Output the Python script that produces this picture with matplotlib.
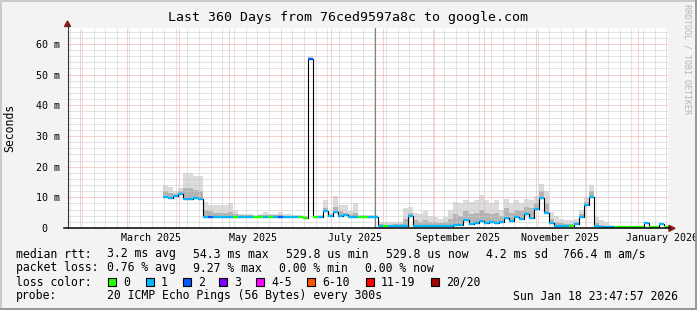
import numpy as np
import matplotlib
matplotlib.use('Agg')
import matplotlib.pyplot as plt
import matplotlib.dates as mdates
from matplotlib.ticker import MultipleLocator, FuncFormatter, NullFormatter
from matplotlib.patches import Rectangle, Polygon
from matplotlib.lines import Line2D

plt.rcParams['font.family'] = ['DejaVu Sans Mono']

W, H = 697, 310

# zeitfenster der grafik (360 tage)
t_end = np.datetime64('2026-01-18T23:47:57')
t_start = t_end - np.timedelta64(360, 'D')
first_bin_day = 57.5   # erste messung, tage nach t_start
bin_days = 3

# median rtt pro 3-tage-block (ms)
median_ms = [10.2, 9.9, 10.4, 11.2, 9.6, 9.5, 9.9, 9.4, 3.6, 3.6,
             3.6, 3.6, 3.6, 3.6, 3.5, 3.6, 3.6, 3.6, 3.5, 3.6,
             3.6, 3.5, 3.6, 3.6, 3.6, 3.6, 3.6, 3.5, 3.4, 55.0,
             3.5, 3.7, 5.6, 3.8, 5.2, 3.8, 4.2, 3.7, 3.7, 3.6,
             3.5, 3.6, 3.7, 0.8, 0.7, 0.8, 0.8, 0.8, 0.8, 3.9,
             0.8, 0.8, 0.8, 0.8, 0.8, 0.8, 0.8, 0.8, 0.9, 0.9,
             2.6, 1.3, 1.6, 2.2, 1.5, 1.8, 1.6, 2.0, 3.2, 2.4,
             3.7, 2.8, 4.6, 3.4, 6.2, 9.7, 4.8, 1.6, 0.8, 0.8,
             0.8, 0.7, 1.2, 3.6, 7.6, 10.2, 0.5, 0.4, 0.4, 0.4,
             0.3, 0.3, 0.3, 0.3, 0.3, 0.3, 1.5, 0.3, 0.3, 1.3,
             0.3]
# verlorene pings (index in loss_colors)
loss_code = [1, 1, 1, 1, 1, 1, 1, 1, 1, 2,
             1, 1, 1, 1, 0, 1, 1, 1, 0, 0,
             1, 0, 1, 2, 1, 1, 1, 0, 0, 2,
             0, 1, 1, 1, 1, 1, 1, 1, 1, 0,
             0, 1, 1, 1, 0, 1, 1, 1, 1, 1,
             1, 1, 1, 1, 1, 1, 1, 1, 1, 1,
             1, 1, 1, 1, 1, 1, 1, 1, 1, 1,
             1, 1, 1, 1, 1, 1, 1, 1, 1, 1,
             1, 0, 1, 1, 1, 1, 1, 1, 1, 1,
             0, 0, 0, 0, 0, 0, 1, 0, 0, 1,
             0]
# rauch: obere grenze und dichter bereich (ms)
smoke_hi_ms = [14.0, 13.5, 12.0, 13.0, 18.0, 18.0, 17.0, 17.0, 8.6, 7.5,
               7.5, 7.5, 7.5, 8.0, 6.0, 4.6, 4.5, 4.6, 4.4, 4.6,
               5.3, 4.6, 4.5, 5.3, 4.5, 4.5, 4.3, 4.3, 4.0, 56.0,
               4.0, 4.3, 9.0, 5.0, 10.4, 7.5, 7.5, 5.5, 8.0, 4.4,
               4.4, 4.2, 4.2, 2.0, 1.8, 1.8, 2.0, 2.0, 6.5, 7.0,
               5.0, 4.5, 5.5, 4.0, 3.5, 3.0, 3.7, 6.0, 8.6, 8.0,
               9.0, 8.5, 9.1, 10.8, 9.0, 8.0, 9.0, 6.0, 9.5, 8.0,
               9.0, 8.0, 9.5, 9.0, 10.5, 14.5, 12.0, 5.3, 4.0, 3.0,
               2.5, 2.5, 3.0, 6.0, 10.0, 14.0, 3.7, 2.5, 2.0, 1.0,
               0.8, 0.8, 0.8, 0.8, 0.8, 0.8, 1.8, 0.8, 0.8, 1.5,
               0.8]
smoke_mid_ms = [12.0, 11.5, 11.0, 12.0, 13.0, 13.0, 12.5, 12.0, 6.0, 5.5,
                5.0, 5.0, 5.0, 5.2, 4.5, 4.1, 4.1, 4.1, 4.0, 4.1,
                4.3, 4.1, 4.1, 4.2, 4.0, 4.0, 4.0, 3.9, 3.8, 55.5,
                3.8, 4.0, 6.5, 4.3, 7.0, 5.5, 5.0, 4.5, 5.0, 4.0,
                4.0, 3.9, 3.9, 1.2, 1.1, 1.1, 1.2, 1.2, 3.0, 5.0,
                2.5, 2.0, 2.5, 2.0, 1.8, 1.5, 1.8, 3.0, 4.5, 4.0,
                5.5, 4.5, 5.0, 6.0, 5.0, 4.5, 5.0, 4.0, 6.5, 5.0,
                6.0, 5.5, 7.0, 6.5, 8.0, 12.0, 8.0, 3.0, 2.0, 1.5,
                1.3, 1.3, 1.8, 4.5, 8.5, 12.0, 1.5, 1.0, 0.8, 0.6,
                0.6, 0.6, 0.6, 0.6, 0.6, 0.6, 1.6, 0.6, 0.6, 1.4,
                0.6]
gap_time = np.datetime64('2025-07-27T14:00')

loss_labels = ['0', '1', '2', '3', '4-5', '6-10', '11-19', '20/20']
loss_colors = ['#26ff00', '#00b8ff', '#0059ff', '#7e00ff',
               '#ff00ff', '#ff5500', '#ff0000', '#a10000']

month_label_times = ['2025-03-15T12:00', '2025-05-15T12:00', '2025-07-15T12:00',
                     '2025-09-15T12:00', '2025-11-15T12:00', '2026-01-15T12:00']
month_labels = ['March 2025', 'May 2025', 'July 2025',
                'September 2025', 'November 2025', 'January 2026']

rtt_stats = ['3.2 ms avg', '54.3 ms max', '529.8 us min', '529.8 us now',
             '4.2 ms sd', '766.4 m am/s']
loss_stats = ['0.76 % avg', '9.27 % max', '0.00 % min', '0.00 % now']
probe_text = '20 ICMP Echo Pings (56 Bytes) every 300s'
stamp_text = 'Sun Jan 18 23:47:57 2026'


def fx(x):
    return x / W


def fy(y):
    return 1 - y / H


# blockgrenzen als datum
n = len(median_ms)
edge_sec = ((first_bin_day + bin_days * np.arange(n + 1)) * 86400).astype('int64')
edges = mdates.date2num(t_start + edge_sec.astype('timedelta64[s]'))

med = np.array(median_ms)
hi = np.array(smoke_hi_ms)
mid = np.array(smoke_mid_ms)

fig = plt.figure(figsize=(W / 100, H / 100), dpi=100, facecolor='#f3f3f3')
ax = fig.add_axes([fx(67), 1 - 228 / H, 601 / W, 200 / H])
ax.set_facecolor('white')

# rauch
ax.fill_between(edges, np.append(med, med[-1]), np.append(hi, hi[-1]),
                step='post', color='#dcdcdc', lw=0, zorder=1)
ax.fill_between(edges, np.append(med, med[-1]), np.append(mid, mid[-1]),
                step='post', color='#b4b4b4', lw=0, zorder=1.1)

# median
ax.step(edges, np.append(med, med[-1]), where='post', color='black', lw=0.8, zorder=3)
ax.hlines(med, edges[:-1], edges[1:], colors=[loss_colors[c] for c in loss_code],
          lw=1.6, zorder=4)
ax.axvline(mdates.date2num(gap_time), color='#808080', lw=0.8, zorder=3)

ax.set_xlim(mdates.date2num(t_start), mdates.date2num(t_end))
ax.set_ylim(0, 65.2)

# gitter
ax.xaxis.set_major_locator(mdates.MonthLocator())
ax.xaxis.set_minor_locator(mdates.WeekdayLocator(byweekday=mdates.SU))
ax.xaxis.set_major_formatter(NullFormatter())
ax.yaxis.set_major_locator(MultipleLocator(10))
ax.yaxis.set_minor_locator(MultipleLocator(2))
ax.grid(which='minor', color='#c8c8c8', ls=(0, (1, 1)), lw=0.72)
ax.grid(which='major', color='#f0a0a0', ls=(0, (1, 1)), lw=0.72)
ax.yaxis.set_major_formatter(FuncFormatter(lambda v, p: '0  ' if v == 0 else f'{v:.0f} m'))
ax.tick_params(which='both', length=0)
ax.tick_params(axis='y', labelsize=7.2, pad=5)
for s in ax.spines.values():
    s.set_visible(False)

for t, lab in zip(month_label_times, month_labels):
    ax.text(mdates.date2num(np.datetime64(t)), -0.048, lab, transform=ax.get_xaxis_transform(),
            ha='center', va='center', fontsize=7.2)

# achsen mit pfeilen
arrow_c = '#8b1a1a'
fig.add_artist(Line2D([fx(67.5), fx(67.5)], [fy(228), fy(25)], color='#303030', lw=0.8))
fig.add_artist(Line2D([fx(64), fx(670)], [fy(228.3), fy(228.3)], color='black', lw=1.1))
fig.add_artist(Polygon([(fx(64.5), fy(26.5)), (fx(70.5), fy(26.5)), (fx(67.5), fy(21))],
                       closed=True, color=arrow_c, transform=fig.transFigure))
fig.add_artist(Polygon([(fx(669), fy(225.3)), (fx(669), fy(231.3)), (fx(675), fy(228.3))],
                       closed=True, color=arrow_c, transform=fig.transFigure))

# titel und beschriftung
fig.text(0.5, fy(18), 'Last 360 Days from 76ced9597a8c to google.com',
         ha='center', va='center', fontsize=9.5)
fig.text(fx(10), fy(128), 'Seconds', rotation=90, ha='center', va='center', fontsize=8.3)
fig.text(fx(687), fy(4), 'RRDTOOL / TOBI OETIKER', rotation=270, ha='center', va='top',
         fontsize=6, color='#b4b4b4')

# legende
fs = 8.3
fig.text(fx(16), fy(254), 'median rtt:', va='center', fontsize=fs)
for xp, txt in zip([107, 193, 286, 386, 486, 563], rtt_stats):
    fig.text(fx(xp), fy(254), txt, va='center', fontsize=fs)
fig.text(fx(16), fy(268), 'packet loss:', va='center', fontsize=fs)
for xp, txt in zip([107, 193, 279, 365], loss_stats):
    fig.text(fx(xp), fy(268), txt, va='center', fontsize=fs)
fig.text(fx(16), fy(282), 'loss color:', va='center', fontsize=fs)
box_x = [108, 146, 183, 219, 256, 307, 366, 431]
for bx, lab, col in zip(box_x, loss_labels, loss_colors):
    fig.add_artist(Rectangle((fx(bx), fy(286)), 8 / W, 8 / H, transform=fig.transFigure,
                             facecolor=col, edgecolor='black', lw=0.8))
    fig.text(fx(bx + 15), fy(282), lab, va='center', fontsize=fs)
fig.text(fx(16), fy(296), 'probe:', va='center', fontsize=fs)
fig.text(fx(107), fy(296), probe_text, va='center', fontsize=fs)
fig.text(fx(513), fy(296), stamp_text, va='center', fontsize=fs)

# rahmen
for (x, y, w, h), c in [((0, 1 - 2 / H, 1, 2 / H), '#cbcbcb'),
                        ((0, 0, 2 / W, 1), '#cbcbcb'),
                        ((0, 0, 1, 2 / H), '#999999'),
                        ((1 - 2 / W, 0, 2 / W, 1), '#999999')]:
    fig.add_artist(Rectangle((x, y), w, h, transform=fig.transFigure, color=c, lw=0))

fig.savefig('out.png', dpi=100, facecolor=fig.get_facecolor())
